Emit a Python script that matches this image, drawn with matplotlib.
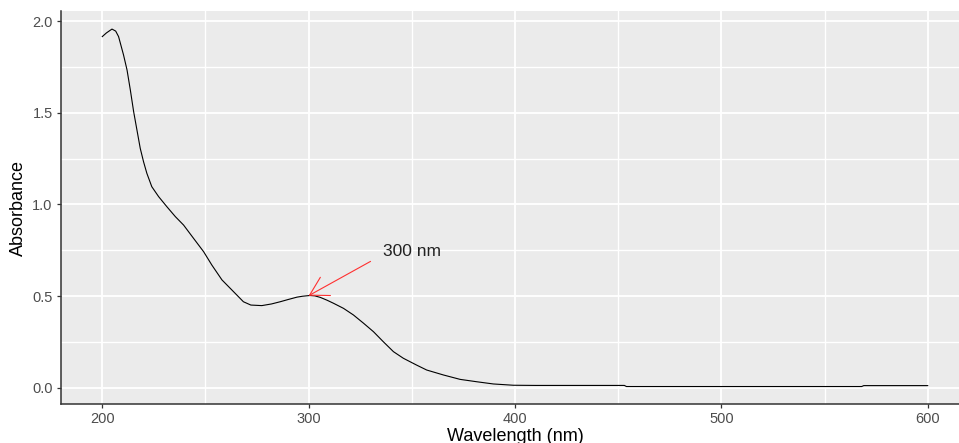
import matplotlib
matplotlib.use("Agg")
import matplotlib.pyplot as plt
from matplotlib.ticker import MultipleLocator

plt.rcParams['font.family'] = ['Liberation Sans', 'DejaVu Sans']

# UV-Vis absorbance spectrum
wavelength = [200, 202, 204.7, 206.5, 207.9, 210.3, 212, 213.6, 215.2, 216.8,
              218.4, 220, 221.6, 224, 227.3, 231.3, 235.4, 239.4, 244.2, 249.1,
              253.1, 258, 263.6, 268.4, 272, 277.3, 282, 286.2, 290, 294.3,
              297, 300.5, 303, 305.6, 309, 312, 316.9, 321.7, 326.6, 331.4,
              336.2, 341.1, 345.9, 352.3, 357.2, 365.3, 373.4, 381.5, 389.5, 399.2,
              410, 453, 454, 568, 569, 600]
absorbance = [1.915, 1.935, 1.956, 1.945, 1.915, 1.815, 1.733, 1.624, 1.506, 1.406,
              1.306, 1.233, 1.170, 1.097, 1.043, 0.988, 0.934, 0.888, 0.816, 0.743,
              0.670, 0.589, 0.525, 0.470, 0.452, 0.449, 0.458, 0.470, 0.482, 0.495,
              0.500, 0.504, 0.502, 0.494, 0.478, 0.462, 0.434, 0.398, 0.353, 0.307,
              0.252, 0.198, 0.162, 0.125, 0.098, 0.071, 0.047, 0.034, 0.022, 0.015,
              0.014, 0.014, 0.008, 0.008, 0.013, 0.013]

peak_x = 300
peak_y = 0.503
label_x = 350
label_y = 0.745
label_text = "300 nm"

fig = plt.figure(figsize=(9.59, 4.43), dpi=100)
ax = fig.add_axes([61 / 959, 39 / 443, 908 / 959, 393 / 443])
ax.set_facecolor('#EBEBEB')

ax.plot(wavelength, absorbance, color='black', linewidth=0.8, zorder=3)

# arrow pointing at the 300 nm band
ax.annotate('', xy=(peak_x, peak_y), xytext=(peak_x + 30, peak_y + 0.187),
            arrowprops=dict(arrowstyle='->,head_length=13,head_width=7.5',
                            color='#FF3030', lw=0.8, shrinkA=0, shrinkB=0,
                            mutation_scale=1), zorder=4)
ax.text(label_x, label_y, label_text, ha='center', va='center',
        fontsize=12.5, color='#222222')

ax.set_xlim(180, 620)
ax.set_ylim(-0.0872, 2.0545)
ax.xaxis.set_major_locator(MultipleLocator(100))
ax.xaxis.set_minor_locator(MultipleLocator(50))
ax.yaxis.set_major_locator(MultipleLocator(0.5))
ax.yaxis.set_minor_locator(MultipleLocator(0.25))
ax.yaxis.set_major_formatter(matplotlib.ticker.FormatStrFormatter('%.1f'))

ax.grid(which='major', color='white', linewidth=1.3)
ax.grid(which='minor', color='white', linewidth=1.0)
ax.set_axisbelow(True)

for side in ['top', 'right']:
    ax.spines[side].set_visible(False)
for side in ['left', 'bottom']:
    ax.spines[side].set_color('#333333')
    ax.spines[side].set_linewidth(1.1)

ax.tick_params(which='major', length=3, width=0.9, color='#333333',
               labelcolor='#4D4D4D', labelsize=10.5, pad=3)
ax.tick_params(which='minor', length=0)

ax.set_xlabel('Wavelength (nm)', fontsize=13, color='black')
ax.xaxis.set_label_coords(0.5, -0.062)
ax.set_ylabel('Absorbance', fontsize=13, color='black')
ax.yaxis.label.set_va('center')
ax.yaxis.set_label_coords(-0.047, 0.5)

fig.savefig('out.png', dpi=100)
